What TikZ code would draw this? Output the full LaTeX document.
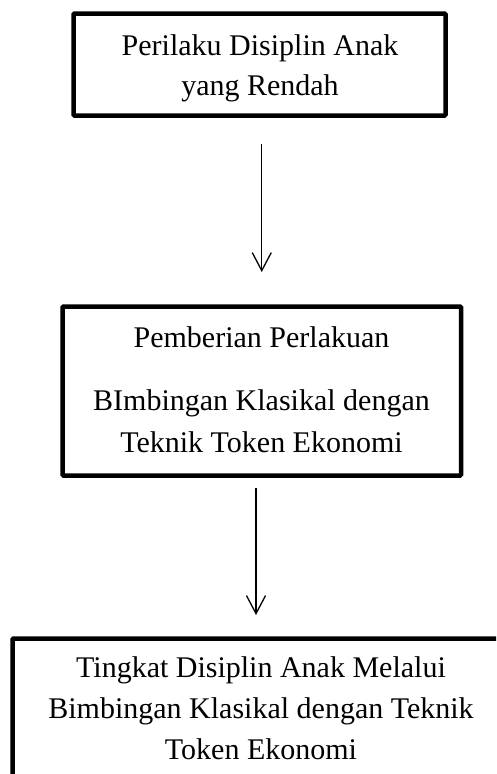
\documentclass[tikz,border=0pt]{standalone}
\usepackage{fontspec}
\setmainfont{Liberation Serif}
\usetikzlibrary{arrows.meta}
\begin{document}
\begin{tikzpicture}[x=1pt,y=-1pt,
  box/.style={draw, line width=4.5pt, rounded corners=1pt, inner sep=0pt, outer sep=0pt},
  txt/.style={anchor=base, inner sep=0pt, font=\fontsize{30}{41}\selectfont},
  flow/.style={line width=1.3pt, -{Straight Barb[length=18pt,width=19pt,line width=1.3pt]}}]
\useasboundingbox (0,0) rectangle (496,774);
\clip (0,0) rectangle (496,774);
\node[box, minimum width=372pt, minimum height=102pt] (b1) at (259.5,64.5) {};
\node[box, minimum width=398.5pt, minimum height=169pt] (b2) at (261.75,391) {};
\node[box, minimum width=497.5pt, minimum height=170pt] (b3) at (261.25,723.5) {};
\node[txt] (t1a) at (260,55) {Perilaku Disiplin Anak};
\node[txt] (t1b) at (260,95) {yang Rendah};
\node[txt] (t2a) at (261.5,347) {Pemberian Perlakuan};
\node[txt] (t2b) at (261.5,410) {BImbingan Klasikal dengan};
\node[txt] (t2c) at (261.5,452) {Teknik Token Ekonomi};
\node[txt] (t3a) at (261,677) {Tingkat Disiplin Anak Melalui};
\node[txt] (t3b) at (261,718) {Bimbingan Klasikal dengan Teknik};
\node[txt] (t3c) at (261,759) {Token Ekonomi};
\draw[flow, shorten <=28.5pt, shorten >=34.5pt] (b2.north |- b1.south) -- (b2.north);
\draw[flow, shorten <=12.5pt, shorten >=23.5pt] ([xshift=-5.75pt]b2.south) -- ([xshift=-5.75pt]b2.south |- b3.north);
\end{tikzpicture}
\end{document}
